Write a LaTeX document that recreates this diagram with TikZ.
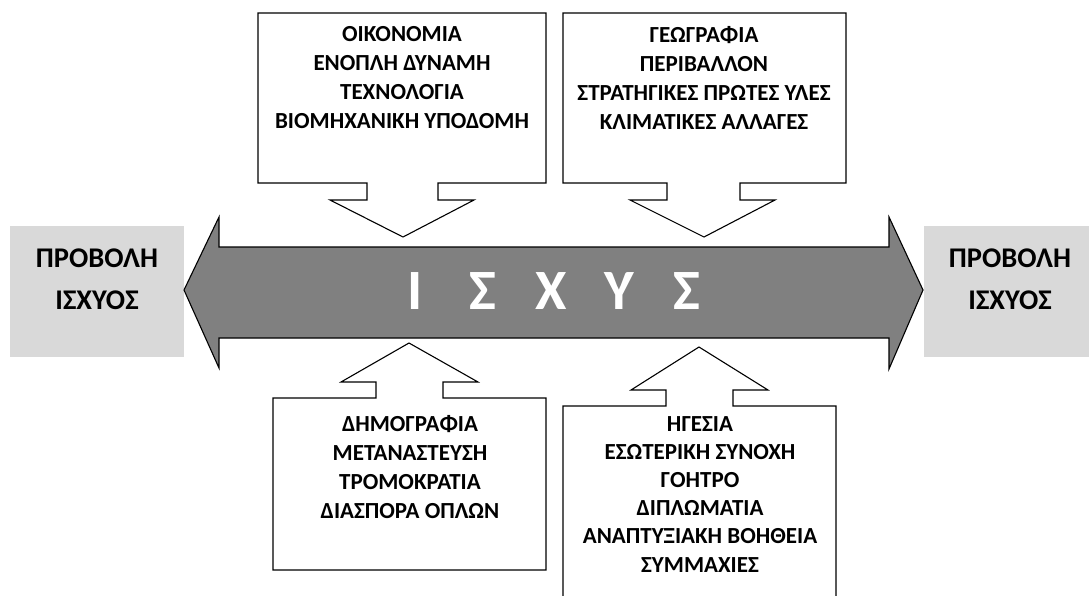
\documentclass[tikz,border=0pt]{standalone}
\usepackage{fontspec}
\setmainfont{Carlito}
\definecolor{projgrey}{HTML}{D9D9D9}
\definecolor{shaftgrey}{HTML}{808080}
\begin{document}
\begin{tikzpicture}[x=1pt,y=-1pt,line join=miter,
  outline/.style={draw=black,line width=1.1pt},
  callout/.style={outline,fill=white},
  itemtext/.style={font=\bfseries\fontsize{23}{29}\selectfont,align=center,inner sep=0pt,anchor=north},
  projtext/.style={font=\bfseries\fontsize{28.5}{42}\selectfont,align=center,inner sep=0pt,anchor=north},
  bigtext/.style={font=\bfseries\fontsize{57}{60}\selectfont,text=white,inner sep=0pt}]
\useasboundingbox (0,0) rectangle (1089,595);

% projection panels at both ends
\fill[projgrey] (10,226) rectangle (184,357);
\fill[projgrey] (924,226) rectangle (1089,357);
\node[projtext] (projL) at (97,249) {ΠΡΟΒΟΛΗ\\ΙΣΧΥΟΣ};
\node[projtext] (projR) at (1010,249) {ΠΡΟΒΟΛΗ\\ΙΣΧΥΟΣ};

% double-headed power arrow
\draw[outline,fill=shaftgrey] (184,290) -- (219,217) -- (219,247) -- (889,247) -- (889,217)
  -- (923,290) -- (889,369) -- (889,338) -- (219,338) -- (219,368) -- cycle;
\node[bigtext] (power) at (551,291)
  {\makebox[68pt]{Ι}\makebox[68pt]{Σ}\makebox[68pt]{Χ}\makebox[68pt]{Υ}\makebox[68pt]{Σ}};

% callouts above the arrow
\draw[callout] (258,13) -- (546,13) -- (546,183) -- (438,183) -- (438,200) -- (474,200)
  -- (403,237) -- (330,200) -- (367,200) -- (367,183) -- (258,183) -- cycle;
\node[itemtext] (econ) at (402,26) {ΟΙΚΟΝΟΜΙΑ\\ΕΝΟΠΛΗ ΔΥΝΑΜΗ\\ΤΕΧΝΟΛΟΓΙΑ\\ΒΙΟΜΗΧΑΝΙΚΗ ΥΠΟΔΟΜΗ};

\draw[callout] (563,13) -- (846,13) -- (846,183) -- (740,183) -- (740,200) -- (775,200)
  -- (704,237) -- (630,200) -- (667,200) -- (667,183) -- (563,183) -- cycle;
\node[itemtext] (geo) at (704,26) {ΓΕΩΓΡΑΦΙΑ\\ΠΕΡΙΒΑΛΛΟΝ\\ΣΤΡΑΤΗΓΙΚΕΣ ΠΡΩΤΕΣ ΥΛΕΣ\\ΚΛΙΜΑΤΙΚΕΣ ΑΛΛΑΓΕΣ};

% callouts below the arrow
\draw[callout] (273,398) -- (376,398) -- (376,382) -- (341,382) -- (409,343) -- (478,382)
  -- (443,382) -- (443,398) -- (546,398) -- (546,570) -- (273,570) -- cycle;
\node[itemtext] (demo) at (410,415) {ΔΗΜΟΓΡΑΦΙΑ\\ΜΕΤΑΝΑΣΤΕΥΣΗ\\ΤΡΟΜΟΚΡΑΤΙΑ\\ΔΙΑΣΠΟΡΑ ΟΠΛΩΝ};

\fill[white] (563,598) -- (563,406) -- (666,406) -- (666,390) -- (631,390) -- (699,347)
  -- (768,390) -- (733,390) -- (733,406) -- (836,406) -- (836,598) -- cycle;
\draw[outline] (563,598) -- (563,406) -- (666,406) -- (666,390) -- (631,390) -- (699,347)
  -- (768,390) -- (733,390) -- (733,406) -- (836,406) -- (836,598);
\node[itemtext,font=\bfseries\fontsize{23}{28.2}\selectfont] (lead) at (700,416)
  {ΗΓΕΣΙΑ\\ΕΣΩΤΕΡΙΚΗ ΣΥΝΟΧΗ\\ΓΟΗΤΡΟ\\ΔΙΠΛΩΜΑΤΙΑ\\ΑΝΑΠΤΥΞΙΑΚΗ ΒΟΗΘΕΙΑ\\ΣΥΜΜΑΧΙΕΣ};
\end{tikzpicture}
\end{document}
